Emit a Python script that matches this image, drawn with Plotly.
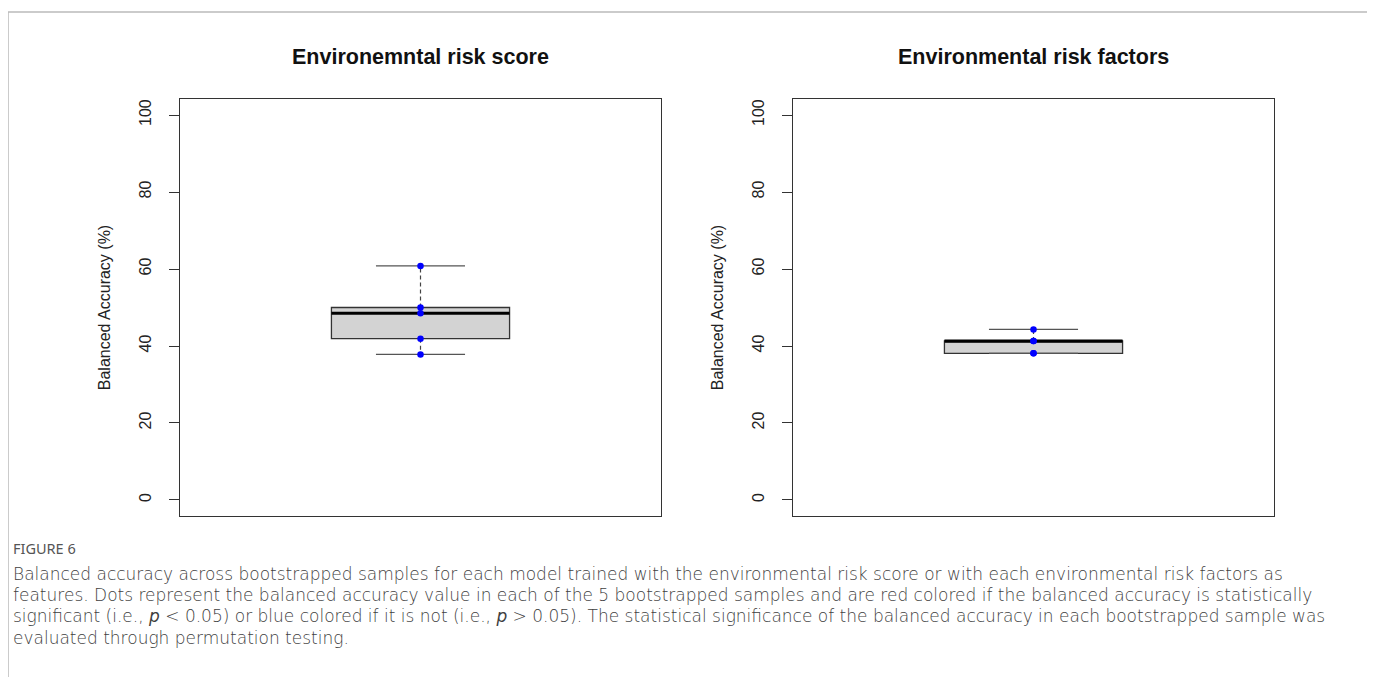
import numpy as np
import plotly.graph_objects as go

# ---- data ----
panel_titles = ["Environemntal risk score", "Environmental risk factors"]
score_values = [60.8, 50.0, 48.5, 41.9, 37.8]      # balanced accuracy per bootstrap
factors_values = [44.3, 41.3, 41.3, 38.1, 38.1]
panel_values = [score_values, factors_values]
y_ticks = [0, 20, 40, 60, 80, 100]
y_title = "Balanced Accuracy (%)"
caption_head = "FIGURE 6"
caption_lines = [
    "Balanced accuracy across bootstrapped samples for each model trained with the environmental risk score or with each environmental risk factors as",
    "features. Dots represent the balanced accuracy value in each of the 5 bootstrapped samples and are red colored if the balanced accuracy is statistically",
    "significant (i.e., <i>p</i> &lt; 0.05) or blue colored if it is not (i.e., <i>p</i> &gt; 0.05). The statistical significance of the balanced accuracy in each bootstrapped sample was",
    "evaluated through permutation testing.",
]

# page body has an 8px margin, so the figure is offset by 8px
OFF = 8
W, H = 1375 - OFF, 677 - OFF


def px_x(px):
    return (px - OFF) / W


def px_y(py):
    return 1 - (py - OFF) / H


fig = go.Figure()

panels_px = [(180, 661), (793, 1274)]
top_px, bot_px = 99, 516
BOXW = 0.4
CENTER = 1.0

for i, vals in enumerate(panel_values):
    xa = "x" if i == 0 else "x2"
    ya = "y" if i == 0 else "y2"
    v = np.array(vals, dtype=float)
    q1, med, q3 = np.percentile(v, [25, 50, 75])
    vmin, vmax = v.min(), v.max()
    fig.add_trace(go.Box(
        x=[CENTER], q1=[q1], median=[med], q3=[q3], lowerfence=[q1], upperfence=[q3],
        width=BOXW, fillcolor="#D3D3D3", line=dict(color="#333333", width=1.3),
        whiskerwidth=0, boxpoints=False, xaxis=xa, yaxis=ya, showlegend=False,
        hoverinfo="skip"))
    for a, b in [(q3, vmax), (q1, vmin)]:
        if a != b:
            fig.add_trace(go.Scatter(x=[CENTER, CENTER], y=[a, b], mode="lines",
                                     line=dict(color="#444444", width=1.2, dash="4px,3px"),
                                     xaxis=xa, yaxis=ya, showlegend=False, hoverinfo="skip"))
    for c in [vmax, vmin]:
        fig.add_trace(go.Scatter(x=[CENTER - BOXW / 4, CENTER + BOXW / 4], y=[c, c], mode="lines",
                                 line=dict(color="#555555", width=1.2),
                                 xaxis=xa, yaxis=ya, showlegend=False, hoverinfo="skip"))
    fig.add_trace(go.Scatter(x=[CENTER - BOXW / 2, CENTER + BOXW / 2], y=[med, med], mode="lines",
                             line=dict(color="#000000", width=3),
                             xaxis=xa, yaxis=ya, showlegend=False, hoverinfo="skip"))
    fig.add_trace(go.Scatter(x=[CENTER] * len(v), y=v, mode="markers",
                             marker=dict(color="#0000FF", size=6.5),
                             xaxis=xa, yaxis=ya, showlegend=False, hoverinfo="skip"))

axis_font = dict(family="Liberation Sans, Arial, sans-serif", size=16, color="#222222")
y_dom = [px_y(bot_px), px_y(top_px)]
common_y = dict(range=[-4.16, 104.16], tickvals=y_ticks, ticks="outside", ticklen=10,
                tickcolor="#333333", tickangle=-90, showline=True, mirror=True,
                linecolor="#333333", linewidth=1.3, showgrid=False, zeroline=False,
                tickfont=axis_font, domain=y_dom, ticklabelstandoff=11,
                title=dict(text=y_title, font=axis_font, standoff=22))
common_x = dict(range=[0.46, 1.54], showticklabels=False, ticks="", showline=True, mirror=True,
                linecolor="#333333", linewidth=1.3, showgrid=False, zeroline=False)

fig.update_layout(
    width=W, height=H, margin=dict(l=0, r=0, t=0, b=0),
    paper_bgcolor="white", plot_bgcolor="white",
    xaxis=dict(common_x, domain=[px_x(panels_px[0][0]), px_x(panels_px[0][1])], anchor="y"),
    yaxis=dict(common_y, anchor="x"),
    xaxis2=dict(common_x, domain=[px_x(panels_px[1][0]), px_x(panels_px[1][1])], anchor="y2"),
    yaxis2=dict(common_y, anchor="x2"),
)

annotations = []
for i, t in enumerate(panel_titles):
    cx = px_x((panels_px[i][0] + panels_px[i][1]) / 2)
    annotations.append(dict(text=f"<b>{t}</b>", x=cx, y=px_y(57), xref="paper", yref="paper",
                            xanchor="center", yanchor="middle", showarrow=False,
                            font=dict(family="Liberation Sans, Arial, sans-serif", size=21.5, color="#111111")))

annotations.append(dict(text=caption_head, x=px_x(11), y=px_y(548), xref="paper", yref="paper",
                        xanchor="left", yanchor="middle", showarrow=False,
                        font=dict(family="Noto Sans, sans-serif", size=14.5, color="#555555")))
line_y = [574, 595, 616, 638]
for ly, txt in zip(line_y, caption_lines):
    annotations.append(dict(text=txt, x=px_x(11), y=px_y(ly), xref="paper", yref="paper",
                            xanchor="left", yanchor="middle", showarrow=False,
                            font=dict(family="DejaVu Sans, sans-serif", size=17, color="#3f3f3f",
                                      weight=300)))
fig.update_layout(annotations=annotations)

fig.add_shape(type="rect", xref="paper", yref="paper", x0=px_x(8), x1=px_x(1369),
              y0=-0.2, y1=px_y(12), line=dict(color="#BBBBBB", width=1.5), layer="below")

fig.write_html("out.html")
